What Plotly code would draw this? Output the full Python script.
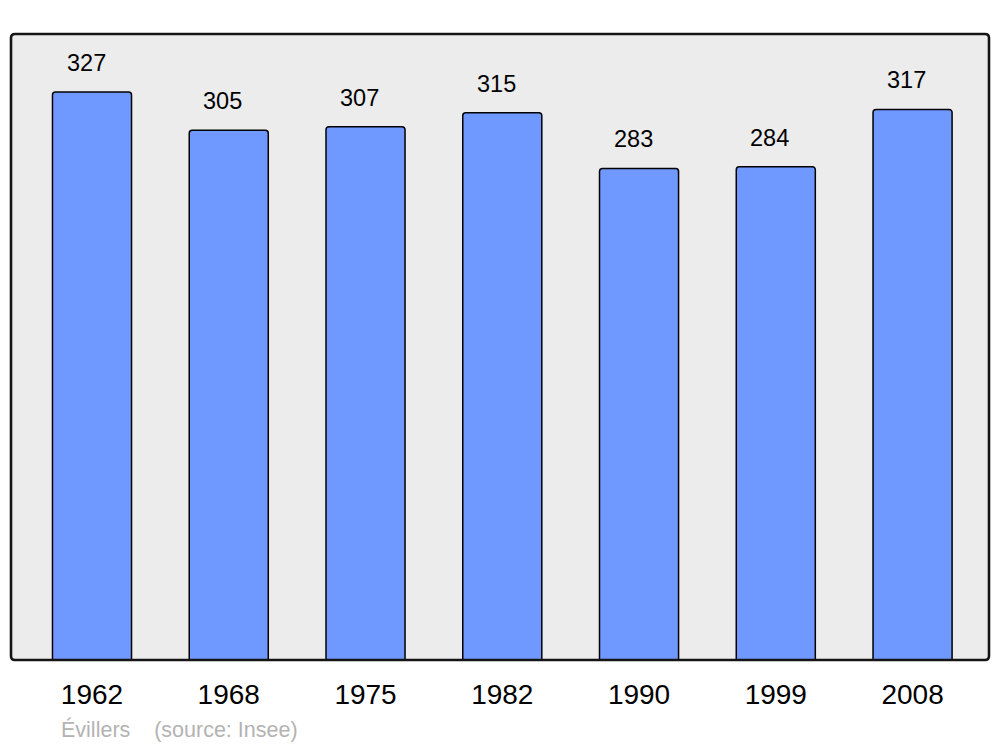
import plotly.graph_objects as go

years = ["1962", "1968", "1975", "1982", "1990", "1999", "2008"]
population = [327, 305, 307, 315, 283, 284, 317]
footer_text = "Évillers    (source: Insee)"

bar_color = "#7099ff"
bg_color = "#ececec"
FONT = "Liberation Sans, Arial, sans-serif"

fig = go.Figure()
fig.add_trace(go.Bar(
    x=years,
    y=population,
    width=0.578,
    marker=dict(color=bar_color, line=dict(color="#000000", width=1.5), cornerradius=3),
    hoverinfo="x+y",
))

for i, val in enumerate(population):
    fig.add_annotation(
        x=i, y=val, xref="x", yref="y",
        text=str(val), showarrow=False,
        yanchor="bottom", yshift=14, xshift=-6,
        font=dict(family=FONT, size=23.5, color="#000000"),
    )

fig.add_annotation(
    x=0.049, y=-0.1118, xref="paper", yref="paper",
    text=footer_text.replace("    ", "&nbsp;&nbsp;&nbsp;&nbsp;"), showarrow=False,
    xanchor="left", yanchor="middle",
    font=dict(family=FONT, size=21.5, color="#b3b3b3"),
)

# rounded frame of the plot area (radius ~4px, plot area 978x626 px)
rx, ry = 4 / 978, 4 / 626
frame = (f"M {rx},0 L {1-rx},0 Q 1,0 1,{ry} L 1,{1-ry} Q 1,1 {1-rx},1 "
         f"L {rx},1 Q 0,1 0,{1-ry} L 0,{ry} Q 0,0 {rx},0 Z")
fig.add_shape(type="path", xref="paper", yref="paper", path=frame,
              fillcolor=bg_color, line=dict(width=0), layer="below")
fig.add_shape(type="path", xref="paper", yref="paper", path=frame,
              fillcolor="rgba(0,0,0,0)", line=dict(color="#151515", width=2.6), layer="above")

# page has an 8px body margin, so the figure is offset by (8, 8)
fig.update_layout(
    width=992, height=739,
    margin=dict(l=3, r=11, t=26, b=87),
    paper_bgcolor="#ffffff",
    plot_bgcolor="#ffffff",
    showlegend=False,
    xaxis=dict(
        type="category", range=[-0.5923, 6.559],
        showgrid=False, zeroline=False, showline=False,
        ticks="outside", ticklen=9, tickcolor="rgba(0,0,0,0)",
        tickfont=dict(family=FONT, size=28, color="#000000"),
        fixedrange=True,
    ),
    yaxis=dict(
        range=[0, 360.4], visible=False, showgrid=False, zeroline=False, fixedrange=True,
    ),
)

fig.write_html("out.html")
